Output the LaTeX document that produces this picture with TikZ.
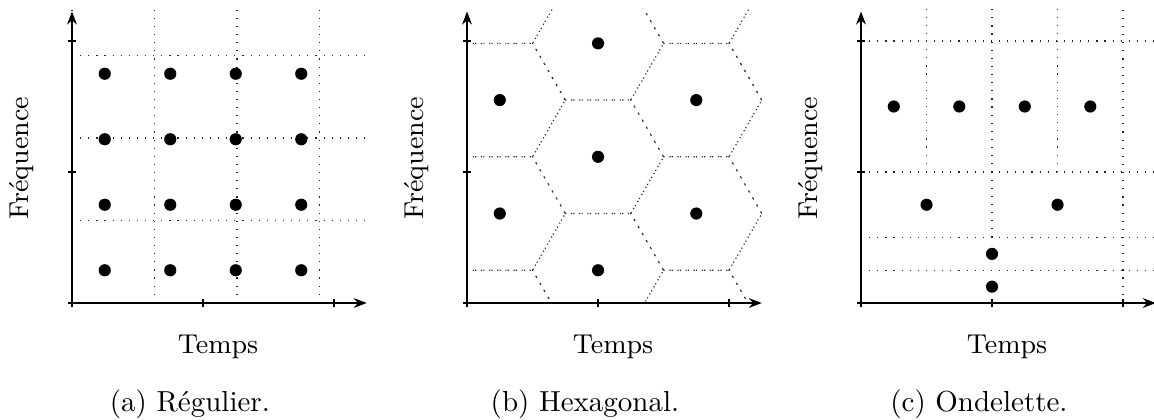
\documentclass[tikz,border=0pt]{standalone}
\usetikzlibrary{arrows.meta}
\begin{document}
\begin{tikzpicture}[x=22.6pt,y=22.6pt,
  axisline/.style={line width=0.5pt,-{Stealth[length=4.5pt,width=3.4pt]}},
  tickline/.style={line width=0.4pt},
  gridline/.style={line width=0.4pt,dash pattern=on 0.4pt off 2.4pt,black!85},
  dot/.style={circle,fill=black,inner sep=0pt,minimum size=4.2pt},
  lab/.style={font=\fontsize{9.4}{11}\selectfont},
  captext/.style={font=\fontsize{10}{12}\selectfont,anchor=base}]
\useasboundingbox (-1.0992,-1.7710) rectangle (16.519,4.626);

% ---------- (a) Regulier ----------
\begin{scope}
  \draw[gridline] (0,0) grid (4.5,4.5);
  \coordinate (aO) at (0,0);
  \coordinate (aX) at (4.5,0);
  \coordinate (aY) at (0,4.45);
  \draw[axisline] (aO) -- (aX);
  \draw[axisline] (aO) -- (aY);
  \foreach \t in {0,2,4}{
    \draw[tickline] (\t,-0.065) -- (\t,0.065);
    \draw[tickline] (-0.065,\t) -- (0.065,\t);
  }
  \foreach \i in {0,...,3}{
    \foreach \j in {0,...,3}{
      \node[dot] (a\i\j) at (\i+0.5,\j+0.5) {};
    }
  }
  \node[lab,rotate=90] (aF) at (-0.763,2.21) {Fréquence};
  \node[lab,anchor=base] (aT) at (2.23,-0.771) {Temps};
  \node[captext] (aC) at (1.80,-1.649) {(a) Régulier.};
\end{scope}

% ---------- (b) Hexagonal ----------
\begin{scope}[shift={(6.031,0)}]
  \begin{scope}
    \clip (0,0) rectangle (4.5,4.5);
    \foreach \cx/\cy in {-1/0.5,-1/2.232,-1/3.964,
                         0.5/-0.366,0.5/1.366,0.5/3.098,0.5/4.83,
                         2/0.5,2/2.232,2/3.964,
                         3.5/-0.366,3.5/1.366,3.5/3.098,3.5/4.83,
                         5/0.5,5/2.232,5/3.964}{
      \draw[gridline] (\cx,\cy) +(1,0) -- +(0.5,0.866) -- +(-0.5,0.866)
        -- +(-1,0) -- +(-0.5,-0.866) -- +(0.5,-0.866) -- cycle;
    }
  \end{scope}
  \coordinate (bO) at (0,0);
  \coordinate (bX) at (4.5,0);
  \coordinate (bY) at (0,4.45);
  \draw[axisline] (bO) -- (bX);
  \draw[axisline] (bO) -- (bY);
  \foreach \t in {0,2,4}{
    \draw[tickline] (\t,-0.065) -- (\t,0.065);
    \draw[tickline] (-0.065,\t) -- (0.065,\t);
  }
  \node[dot] (b1) at (2,3.964) {};
  \node[dot] (b2) at (0.5,3.098) {};
  \node[dot] (b3) at (3.5,3.098) {};
  \node[dot] (b4) at (2,2.232) {};
  \node[dot] (b5) at (0.5,1.366) {};
  \node[dot] (b6) at (3.5,1.366) {};
  \node[dot] (b7) at (2,0.5) {};
  \node[lab,rotate=90] (bF) at (-0.763,2.21) {Fréquence};
  \node[lab,anchor=base] (bT) at (2.23,-0.771) {Temps};
  \node[captext] (bC) at (1.80,-1.649) {(b) Hexagonal.};
\end{scope}

% ---------- (c) Ondelette ----------
\begin{scope}[shift={(12.046,0)}]
  \foreach \y in {4,2,1,0.5}{
    \draw[gridline] (0,\y) -- (4.5,\y);
  }
  \draw[gridline] (1,2) -- (1,4.5);
  \draw[gridline] (2,1) -- (2,4.5);
  \draw[gridline] (3,2) -- (3,4.5);
  \draw[gridline] (4,0) -- (4,4.5);
  \coordinate (cO) at (0,0);
  \coordinate (cX) at (4.5,0);
  \coordinate (cY) at (0,4.45);
  \draw[axisline] (cO) -- (cX);
  \draw[axisline] (cO) -- (cY);
  \foreach \t in {0,2,4}{
    \draw[tickline] (\t,-0.065) -- (\t,0.065);
    \draw[tickline] (-0.065,\t) -- (0.065,\t);
  }
  \foreach \i in {0,...,3}{
    \node[dot] (c3\i) at (\i+0.5,3) {};
  }
  \node[dot] (c20) at (1,1.5) {};
  \node[dot] (c21) at (3,1.5) {};
  \node[dot] (c10) at (2,0.75) {};
  \node[dot] (c00) at (2,0.25) {};
  \node[lab,rotate=90] (cF) at (-0.763,2.21) {Fréquence};
  \node[lab,anchor=base] (cT) at (2.23,-0.771) {Temps};
  \node[captext] (cC) at (1.80,-1.649) {(c) Ondelette.};
\end{scope}
\end{tikzpicture}
\end{document}
